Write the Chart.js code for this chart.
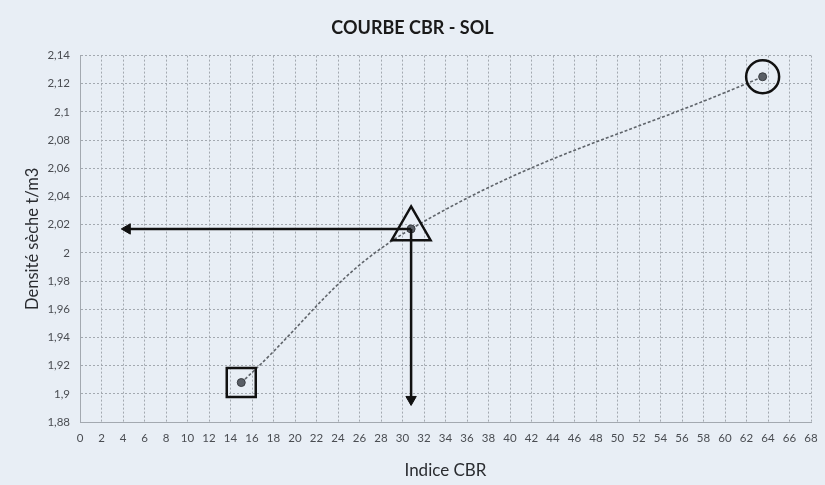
<!doctype html>
<html lang="fr">
<head>
	<meta charset="utf-8">
	<title>Courbe CBR - Sol</title>
	<script src="https://cdn.jsdelivr.net/npm/chart.js"></script>
	<style>
		html, body { margin: 0; padding: 0; background: #e8eef5; }
		#box { width: 825px; height: 485px; }
	</style>
</head>
<body>
	<div id="box"><canvas id="courbe" width="825" height="485"></canvas></div>
	<script>
		// essais CBR : indice / densité sèche
		const indiceCBR = [15, 30.8, 63.5];
		const densiteSeche = [1.908, 2.017, 2.125];

		// lecture graphique au point retenu
		const lectureX = [30.8, 4.4];
		const lectureY = [2.017, 2.017];
		const descenteX = [30.8, 30.8];
		const descenteY = [2.017, 1.896];

		// repères autour des points
		const reperes = ['rect', 'triangle', 'circle'];
		const tailleReperes = [20.5, 22.5, 16.5];

		// graduations des axes
		const xMin = 0, xMax = 68, xPas = 2;
		const yMin = 1.88, yMax = 2.14, yPas = 0.02;

		function virgule(v) {
			return String(Math.round(v * 100) / 100).replace('.', ',');
		}

		function pts(xs, ys) {
			return xs.map((x, i) => ({ x: x, y: ys[i] }));
		}

		const fond = {
			id: 'fond',
			beforeDraw(chart) {
				const c = chart.ctx;
				c.save();
				c.fillStyle = '#e8eef5';
				c.fillRect(0, 0, chart.width, chart.height);
				c.restore();
			}
		};

		const grille = { color: '#a3a9b0', lineWidth: 1, drawTicks: false };

		new Chart(document.getElementById('courbe'), {
			type: 'scatter',
			data: {
				datasets: [
					{
						label: 'reperes',
						data: pts(indiceCBR, densiteSeche),
						showLine: false,
						pointStyle: reperes,
						pointRadius: tailleReperes,
						pointBackgroundColor: 'rgba(0,0,0,0)',
						pointBorderColor: '#111',
						pointBorderWidth: 2.5,
						clip: false,
						order: 0
					},
					{
						label: 'lecture',
						data: pts(lectureX, lectureY),
						showLine: true,
						borderColor: '#111',
						borderWidth: 2.5,
						pointStyle: [false, 'triangle'],
						pointRotation: [0, -90],
						pointRadius: [0, 6],
						pointBackgroundColor: '#111',
						pointBorderColor: '#111',
						pointBorderWidth: 1,
						clip: false,
						order: 1
					},
					{
						label: 'descente',
						data: pts(descenteX, descenteY),
						showLine: true,
						borderColor: '#111',
						borderWidth: 2.5,
						pointStyle: [false, 'triangle'],
						pointRotation: [0, 180],
						pointRadius: [0, 6],
						pointBackgroundColor: '#111',
						pointBorderColor: '#111',
						pointBorderWidth: 1,
						clip: false,
						order: 1
					},
					{
						label: 'CBR',
						data: pts(indiceCBR, densiteSeche),
						showLine: true,
						tension: 0.4,
						borderColor: '#5f646a',
						borderWidth: 1.6,
						borderDash: [3, 2],
						pointRadius: 4,
						pointBackgroundColor: '#5a5f66',
						pointBorderColor: '#3a3d42',
						pointBorderWidth: 1,
						order: 2
					}
				]
			},
			options: {
				responsive: false,
				animation: false,
				layout: { autoPadding: false, padding: { left: 0, right: 0, top: 0, bottom: 0 } },
				plugins: {
					legend: { display: false },
					tooltip: { enabled: false },
					title: {
						display: true,
						text: 'COURBE CBR - SOL',
						color: '#1a1a1a',
						font: { family: 'Lato', size: 18, weight: 'bold' },
						padding: { top: 17, bottom: 17 }
					}
				},
				scales: {
					x: {
						type: 'linear',
						min: xMin,
						max: xMax,
						grid: grille,
						border: { display: true, color: '#a3a9b0', dash: [2, 2] },
						ticks: {
							stepSize: xPas,
							autoSkip: false,
							maxRotation: 0,
							padding: 9,
							color: '#4a4d52',
							font: { family: 'Lato', size: 11.5 }
						},
						title: {
							display: true,
							text: 'Indice CBR',
							color: '#2a2c30',
							font: { family: 'Lato', size: 17 },
							padding: { top: 6 }
						},
						afterFit(s) {
							s.height = 63;
							s.paddingLeft = 0;
							s.paddingRight = 14;
						}
					},
					y: {
						type: 'linear',
						min: yMin,
						max: yMax,
						grid: grille,
						border: { display: true, color: '#a3a9b0', dash: [2, 2] },
						ticks: {
							stepSize: yPas,
							padding: 10,
							color: '#4a4d52',
							font: { family: 'Lato', size: 11.5 },
							callback: v => virgule(v)
						},
						title: {
							display: true,
							text: 'Densité sèche t/m3',
							color: '#2a2c30',
							font: { family: 'Lato', size: 16.5 },
							padding: { top: 23, bottom: 4 }
						},
						afterFit(s) { s.width = 80; }
					}
				}
			},
			plugins: [fond]
		});
	</script>
</body>
</html>
